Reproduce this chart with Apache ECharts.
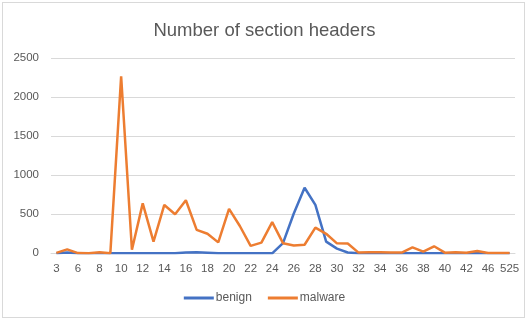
<!DOCTYPE html>
<html>
<head>
<meta charset="utf-8">
<script src="https://cdn.jsdelivr.net/npm/echarts@6/dist/echarts.min.js"></script>
<style>
  html, body { margin: 0; padding: 0; background: #fff; }
  #frame { position: absolute; left: 2px; top: 2px; width: 523px; height: 316px; border: 1px solid #d9d9d9; box-sizing: border-box; }
  #chart { position: absolute; left: 0; top: 0; width: 529px; height: 321px; }
</style>
</head>
<body>
<div id="frame"></div>
<div id="chart"></div>
<script>
// Number of sections in the PE header, counts per category
const sectionCounts = ['3','4','6','7','8','9','10','11','12','13','14','15','16','17','18','19','20','21','22','23',
  '24','25','26','27','28','29','30','31','32','33','34','35','36','37','38','39','40','41','42','44','46','48','525'];

const benign = [0,10,0,0,0,0,0,0,0,0,0,0,10,12,8,0,0,0,0,0,
  0,130,510,840,620,150,60,10,0,0,0,0,0,0,0,0,0,0,0,0,0,0,0];

const malware = [5,50,3,2,13,2,2270,45,640,150,620,500,680,300,250,140,570,350,95,137,
  400,130,100,110,330,250,128,125,9,13,12,10,10,75,21,90,8,13,8,30,4,3,3];

const yTicks = { min: 0, max: 2500, interval: 500 };

const chart = echarts.init(document.getElementById('chart'));
const textGray = '#595959';
chart.setOption({
  animation: false,
  title: {
    text: 'Number of section headers',
    left: 'center',
    top: 16,
    textStyle: { fontFamily: 'Liberation Sans', fontSize: 18.5, fontWeight: 'normal', color: textGray }
  },
  legend: {
    bottom: 12,
    left: 'center',
    itemWidth: 30,
    itemHeight: 3,
    itemGap: 16,
    icon: 'rect',
    textStyle: { fontFamily: 'Liberation Sans', fontSize: 12, color: textGray, padding: [0, 0, 0, -3] },
    data: ['benign', 'malware']
  },
  grid: { left: 51, right: 14, top: 58.3, bottom: 67.7 },
  xAxis: {
    type: 'category',
    data: sectionCounts,
    boundaryGap: true,
    axisLine: { lineStyle: { color: '#d9d9d9', width: 1 } },
    axisTick: { show: false },
    axisLabel: { interval: 1, color: textGray, fontFamily: 'Liberation Sans', fontSize: 11.5, margin: 10 }
  },
  yAxis: {
    type: 'value',
    min: yTicks.min, max: yTicks.max, interval: yTicks.interval,
    axisLine: { show: false },
    axisTick: { show: false },
    splitLine: { lineStyle: { color: '#d9d9d9', width: 1 } },
    axisLabel: { color: textGray, fontFamily: 'Liberation Sans', fontSize: 11.5, margin: 12,
      formatter: v => String(v) }
  },
  series: [
    { name: 'benign', type: 'line', data: benign, symbol: 'none',
      lineStyle: { color: '#4472c4', width: 2.5 }, itemStyle: { color: '#4472c4' } },
    { name: 'malware', type: 'line', data: malware, symbol: 'none',
      lineStyle: { color: '#ed7d31', width: 2.5 }, itemStyle: { color: '#ed7d31' } }
  ]
});
</script>
</body>
</html>
